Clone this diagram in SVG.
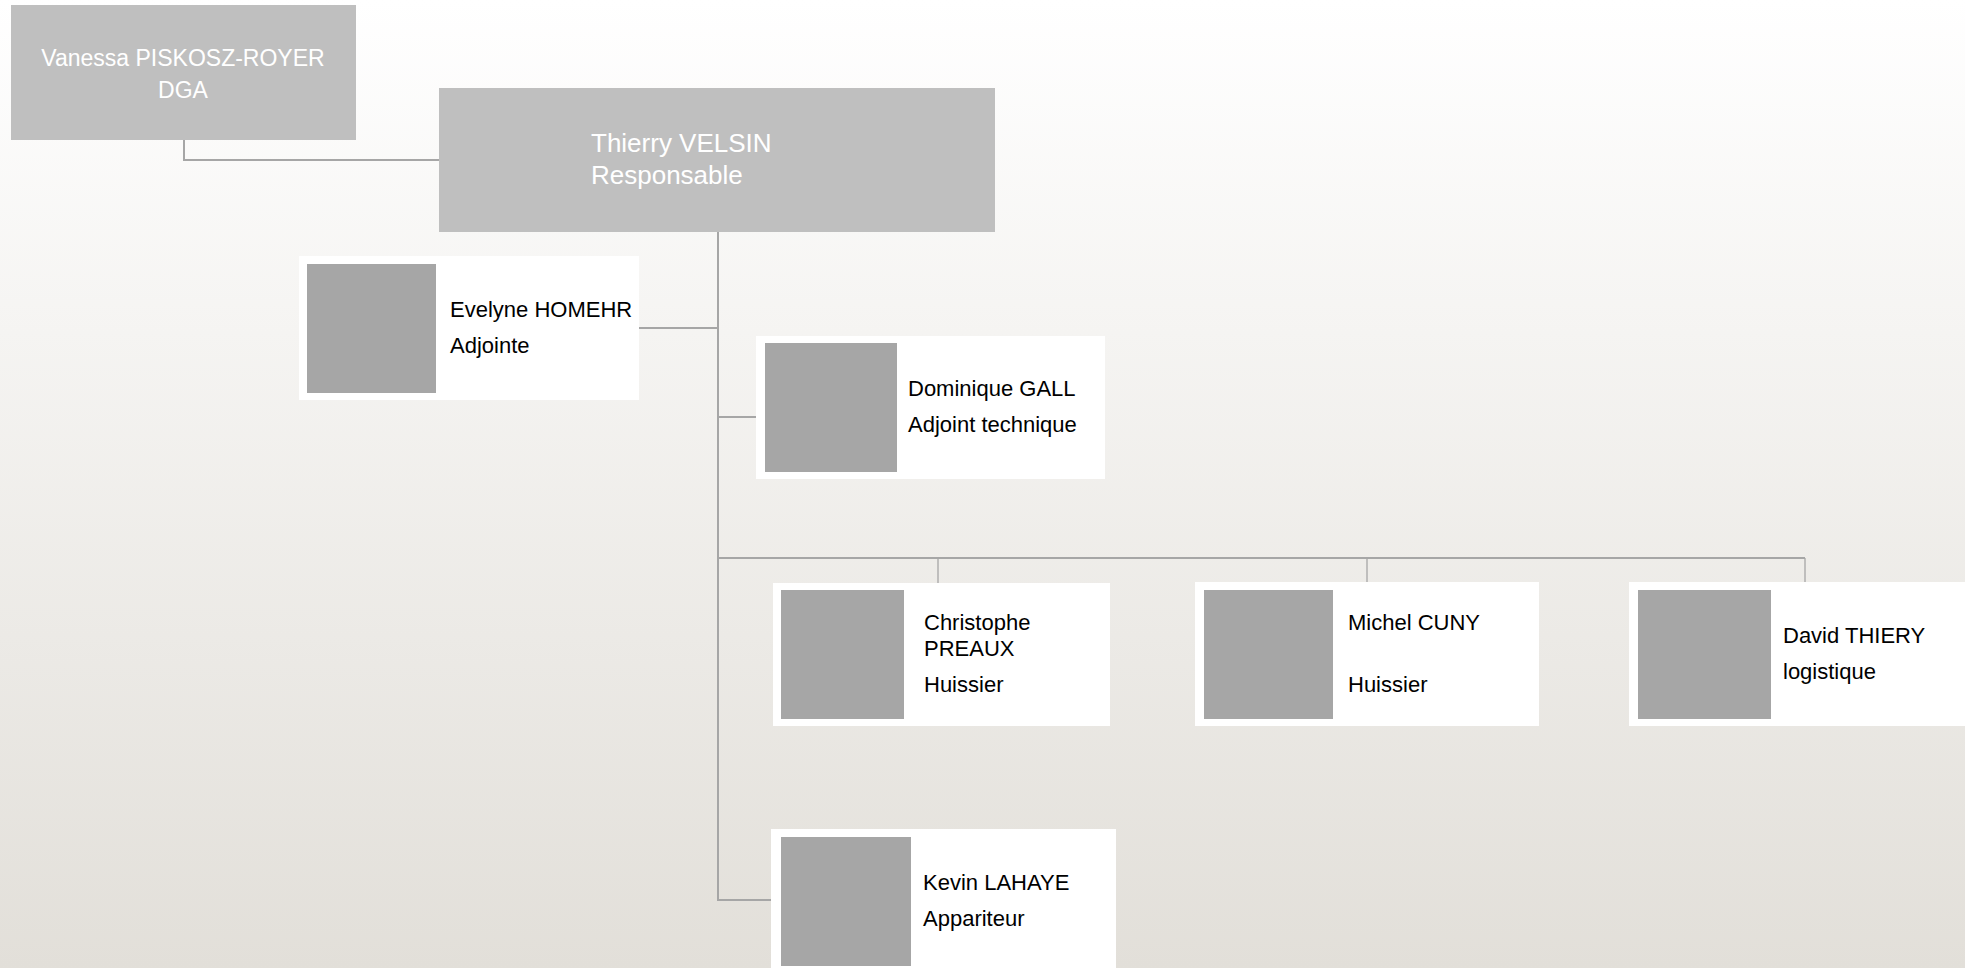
<svg xmlns="http://www.w3.org/2000/svg" width="1965" height="968" viewBox="0 0 1965 968">
<defs>
<linearGradient id="bg" x1="0" y1="0" x2="0" y2="1">
<stop offset="0" stop-color="#ffffff"/>
<stop offset="1" stop-color="#e2dfd9"/>
</linearGradient>
<style>
.top{fill:#bfbfbf;}
.card{fill:#ffffff;}
.photo{fill:#a6a6a6;}
.wt{font-family:"Liberation Sans",Arial,sans-serif;fill:#ffffff;}
.bt{font-family:"Liberation Sans",Arial,sans-serif;fill:#000000;font-size:22px;}
.ln{fill:none;stroke:#a6a6a6;stroke-width:2;}
.thin{fill:none;stroke:#a6a6a6;stroke-width:1.3;}
</style>
</defs>
<rect x="0" y="0" width="1965" height="968" fill="url(#bg)"/>
<g id="connectors">
<path class="ln" d="M184 140 V160 H439"/>
<path class="ln" d="M718 232 V900 H771"/>
<path class="ln" d="M639 328 H718"/>
<path class="ln" d="M718 417 H756"/>
<path class="ln" d="M718 558 H1805"/>
<path class="thin" d="M938 558 V583"/>
<path class="thin" d="M1367 558 V582"/>
<path class="thin" d="M1805 558 V582"/>
</g>
<g id="vanessa">
<rect class="top" x="11" y="5" width="345" height="135"/>
<text class="wt" font-size="23" x="183" y="66" text-anchor="middle">Vanessa PISKOSZ-ROYER</text>
<text class="wt" font-size="23" x="183" y="98" text-anchor="middle">DGA</text>
</g>
<g id="thierry">
<rect class="top" x="439" y="88" width="556" height="144"/>
<text class="wt" font-size="26" x="591" y="152">Thierry VELSIN</text>
<text class="wt" font-size="26" x="591" y="184">Responsable</text>
</g>
<g id="evelyne">
<rect class="card" x="299" y="256" width="340" height="144"/>
<rect class="photo" x="307" y="264" width="129" height="129"/>
<text class="bt" x="450" y="317">Evelyne HOMEHR</text>
<text class="bt" x="450" y="353">Adjointe</text>
</g>
<g id="dominique">
<rect class="card" x="756" y="336" width="349" height="143"/>
<rect class="photo" x="765" y="343" width="132" height="129"/>
<text class="bt" x="908" y="396">Dominique GALL</text>
<text class="bt" x="908" y="432">Adjoint technique</text>
</g>
<g id="christophe">
<rect class="card" x="773" y="583" width="337" height="143"/>
<rect class="photo" x="781" y="590" width="123" height="129"/>
<text class="bt" x="924" y="630">Christophe</text>
<text class="bt" x="924" y="656">PREAUX</text>
<text class="bt" x="924" y="692">Huissier</text>
</g>
<g id="michel">
<rect class="card" x="1195" y="582" width="344" height="144"/>
<rect class="photo" x="1204" y="590" width="129" height="129"/>
<text class="bt" x="1348" y="630">Michel CUNY</text>
<text class="bt" x="1348" y="692">Huissier</text>
</g>
<g id="david">
<rect class="card" x="1629" y="582" width="336" height="144"/>
<rect class="photo" x="1638" y="590" width="133" height="129"/>
<text class="bt" x="1783" y="643">David THIERY</text>
<text class="bt" x="1783" y="679">logistique</text>
</g>
<g id="kevin">
<rect class="card" x="771" y="829" width="345" height="139"/>
<rect class="photo" x="781" y="837" width="130" height="129"/>
<text class="bt" x="923" y="890">Kevin LAHAYE</text>
<text class="bt" x="923" y="926">Appariteur</text>
</g>
</svg>
